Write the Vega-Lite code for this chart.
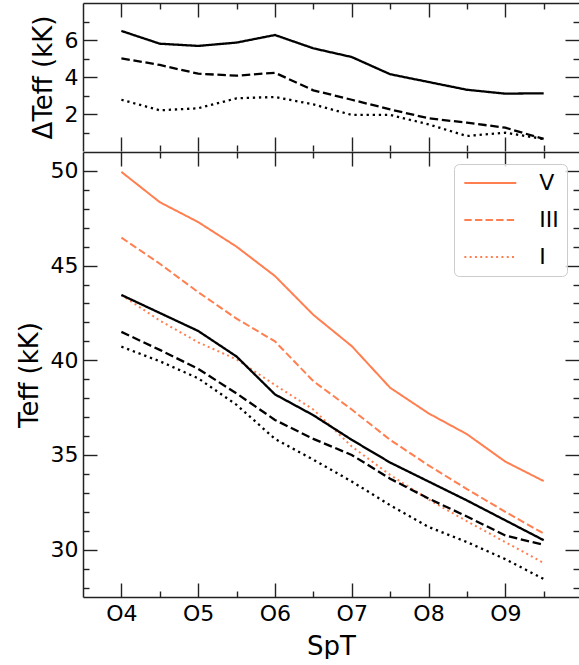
{
  "$schema": "https://vega.github.io/schema/vega-lite/v6.json",
  "padding": {"left": 16, "top": 2, "right": 0, "bottom": 0},
  "spacing": -3,
  "config": {
    "view": {"stroke": null},
    "font": "DejaVu Sans",
    "axis": {
      "grid": false,
      "tickColor": "#222222",
      "tickWidth": 1.4,
      "domainColor": "#222222",
      "domainWidth": 1.5,
      "labelFont": "DejaVu Sans",
      "labelFontSize": 22,
      "labelColor": "#000000",
      "titleFont": "DejaVu Sans",
      "titleFontSize": 26,
      "titleFontWeight": "normal",
      "titleColor": "#000000"
    }
  },
  "datasets": {
    "ours": [
      {"spt": 4, "cls": "V", "teff": 49.95}, {"spt": 4.5, "cls": "V", "teff": 48.35}, {"spt": 5, "cls": "V", "teff": 47.3}, {"spt": 5.5, "cls": "V", "teff": 46.0}, {"spt": 6, "cls": "V", "teff": 44.45}, {"spt": 6.5, "cls": "V", "teff": 42.4}, {"spt": 7, "cls": "V", "teff": 40.75}, {"spt": 7.5, "cls": "V", "teff": 38.55}, {"spt": 8, "cls": "V", "teff": 37.2}, {"spt": 8.5, "cls": "V", "teff": 36.1}, {"spt": 9, "cls": "V", "teff": 34.65}, {"spt": 9.5, "cls": "V", "teff": 33.62},
      {"spt": 4, "cls": "III", "teff": 46.48}, {"spt": 4.5, "cls": "III", "teff": 45.1}, {"spt": 5, "cls": "III", "teff": 43.6}, {"spt": 5.5, "cls": "III", "teff": 42.2}, {"spt": 6, "cls": "III", "teff": 41.0}, {"spt": 6.5, "cls": "III", "teff": 38.9}, {"spt": 7, "cls": "III", "teff": 37.4}, {"spt": 7.5, "cls": "III", "teff": 35.8}, {"spt": 8, "cls": "III", "teff": 34.45}, {"spt": 8.5, "cls": "III", "teff": 33.2}, {"spt": 9, "cls": "III", "teff": 32.0}, {"spt": 9.5, "cls": "III", "teff": 30.85},
      {"spt": 4, "cls": "I", "teff": 43.45}, {"spt": 4.5, "cls": "I", "teff": 42.1}, {"spt": 5, "cls": "I", "teff": 40.95}, {"spt": 5.5, "cls": "I", "teff": 40.05}, {"spt": 6, "cls": "I", "teff": 38.7}, {"spt": 6.5, "cls": "I", "teff": 37.4}, {"spt": 7, "cls": "I", "teff": 35.45}, {"spt": 7.5, "cls": "I", "teff": 33.95}, {"spt": 8, "cls": "I", "teff": 32.65}, {"spt": 8.5, "cls": "I", "teff": 31.5}, {"spt": 9, "cls": "I", "teff": 30.4}, {"spt": 9.5, "cls": "I", "teff": 29.3}
    ],
    "ref": [
      {"spt": 4, "cls": "V", "teff": 43.45}, {"spt": 4.5, "cls": "V", "teff": 42.5}, {"spt": 5, "cls": "V", "teff": 41.55}, {"spt": 5.5, "cls": "V", "teff": 40.2}, {"spt": 6, "cls": "V", "teff": 38.2}, {"spt": 6.5, "cls": "V", "teff": 37.1}, {"spt": 7, "cls": "V", "teff": 35.8}, {"spt": 7.5, "cls": "V", "teff": 34.6}, {"spt": 8, "cls": "V", "teff": 33.6}, {"spt": 8.5, "cls": "V", "teff": 32.6}, {"spt": 9, "cls": "V", "teff": 31.55}, {"spt": 9.5, "cls": "V", "teff": 30.5},
      {"spt": 4, "cls": "III", "teff": 41.5}, {"spt": 4.5, "cls": "III", "teff": 40.55}, {"spt": 5, "cls": "III", "teff": 39.55}, {"spt": 5.5, "cls": "III", "teff": 38.25}, {"spt": 6, "cls": "III", "teff": 36.85}, {"spt": 6.5, "cls": "III", "teff": 35.85}, {"spt": 7, "cls": "III", "teff": 35.0}, {"spt": 7.5, "cls": "III", "teff": 33.75}, {"spt": 8, "cls": "III", "teff": 32.7}, {"spt": 8.5, "cls": "III", "teff": 31.75}, {"spt": 9, "cls": "III", "teff": 30.75}, {"spt": 9.5, "cls": "III", "teff": 30.25},
      {"spt": 4, "cls": "I", "teff": 40.72}, {"spt": 4.5, "cls": "I", "teff": 39.95}, {"spt": 5, "cls": "I", "teff": 39.05}, {"spt": 5.5, "cls": "I", "teff": 37.65}, {"spt": 6, "cls": "I", "teff": 35.85}, {"spt": 6.5, "cls": "I", "teff": 34.75}, {"spt": 7, "cls": "I", "teff": 33.6}, {"spt": 7.5, "cls": "I", "teff": 32.35}, {"spt": 8, "cls": "I", "teff": 31.2}, {"spt": 8.5, "cls": "I", "teff": 30.4}, {"spt": 9, "cls": "I", "teff": 29.5}, {"spt": 9.5, "cls": "I", "teff": 28.45}
    ],
    "diff": [
      {"spt": 4, "cls": "V", "dteff": 6.49}, {"spt": 4.5, "cls": "V", "dteff": 5.8}, {"spt": 5, "cls": "V", "dteff": 5.68}, {"spt": 5.5, "cls": "V", "dteff": 5.86}, {"spt": 6, "cls": "V", "dteff": 6.27}, {"spt": 6.5, "cls": "V", "dteff": 5.55}, {"spt": 7, "cls": "V", "dteff": 5.08}, {"spt": 7.5, "cls": "V", "dteff": 4.15}, {"spt": 8, "cls": "V", "dteff": 3.73}, {"spt": 8.5, "cls": "V", "dteff": 3.31}, {"spt": 9, "cls": "V", "dteff": 3.1}, {"spt": 9.5, "cls": "V", "dteff": 3.12},
      {"spt": 4, "cls": "III", "dteff": 5.01}, {"spt": 4.5, "cls": "III", "dteff": 4.65}, {"spt": 5, "cls": "III", "dteff": 4.18}, {"spt": 5.5, "cls": "III", "dteff": 4.07}, {"spt": 6, "cls": "III", "dteff": 4.23}, {"spt": 6.5, "cls": "III", "dteff": 3.28}, {"spt": 7, "cls": "III", "dteff": 2.77}, {"spt": 7.5, "cls": "III", "dteff": 2.25}, {"spt": 8, "cls": "III", "dteff": 1.77}, {"spt": 8.5, "cls": "III", "dteff": 1.53}, {"spt": 9, "cls": "III", "dteff": 1.26}, {"spt": 9.5, "cls": "III", "dteff": 0.65},
      {"spt": 4, "cls": "I", "dteff": 2.77}, {"spt": 4.5, "cls": "I", "dteff": 2.2}, {"spt": 5, "cls": "I", "dteff": 2.31}, {"spt": 5.5, "cls": "I", "dteff": 2.85}, {"spt": 6, "cls": "I", "dteff": 2.92}, {"spt": 6.5, "cls": "I", "dteff": 2.52}, {"spt": 7, "cls": "I", "dteff": 1.95}, {"spt": 7.5, "cls": "I", "dteff": 1.95}, {"spt": 8, "cls": "I", "dteff": 1.44}, {"spt": 8.5, "cls": "I", "dteff": 0.81}, {"spt": 9, "cls": "I", "dteff": 0.99}, {"spt": 9.5, "cls": "I", "dteff": 0.65}
    ]
  },
  "vconcat": [
    {
      "width": 496,
      "height": 148,
      "data": {"name": "diff"},
      "layer": [
        {
          "mark": {"type": "line", "color": "#000000", "strokeWidth": 2.3},
          "encoding": {
            "x": {"field": "spt", "type": "quantitative", "scale": {"domain": [3.5, 9.96], "nice": false, "zero": false},
                  "axis": {"orient": "bottom", "values": [4, 5, 6, 7, 8, 9], "labels": false, "title": null, "domain": false, "tickSize": -14}},
            "y": {"field": "dteff", "type": "quantitative", "scale": {"domain": [0, 8], "nice": false, "zero": false},
                  "axis": {"orient": "left", "values": [2, 4, 6], "title": "ΔTeff (kK)", "tickSize": -14, "labelPadding": 19, "titlePadding": 8, "domain": true}},
            "strokeDash": {"field": "cls", "type": "nominal", "scale": {"domain": ["V", "III", "I"], "range": [[1, 0], [8.5, 3.7], [2.3, 3.8]]}, "legend": null}
          }
        },
        {
          "mark": {"type": "point", "opacity": 0},
          "encoding": {
            "x": {"field": "spt", "type": "quantitative", "axis": {"orient": "bottom", "values": [4.5, 5.5, 6.5, 7.5, 8.5, 9.5], "labels": false, "title": null, "domain": false, "tickSize": -6}},
            "y": {"field": "dteff", "type": "quantitative", "axis": {"orient": "left", "values": [1, 3, 5, 7], "labels": false, "title": null, "domain": false, "tickSize": -6}}
          }
        },
        {
          "mark": {"type": "point", "opacity": 0},
          "encoding": {
            "x": {"field": "spt", "type": "quantitative", "axis": {"orient": "top", "values": [4, 5, 6, 7, 8, 9], "labels": false, "title": null, "domain": true, "tickSize": -14}},
            "y": {"field": "dteff", "type": "quantitative", "axis": {"orient": "right", "values": [2, 4, 6], "labels": false, "title": null, "domain": false, "tickSize": -14}}
          }
        },
        {
          "mark": {"type": "point", "opacity": 0},
          "encoding": {
            "x": {"field": "spt", "type": "quantitative", "axis": {"orient": "top", "values": [4.5, 5.5, 6.5, 7.5, 8.5, 9.5], "labels": false, "title": null, "domain": false, "tickSize": -6}},
            "y": {"field": "dteff", "type": "quantitative", "axis": {"orient": "right", "values": [1, 3, 5, 7], "labels": false, "title": null, "domain": false, "tickSize": -6}}
          }
        }
      ],
      "resolve": {"axis": {"x": "independent", "y": "independent"}}
    },
    {
      "width": 496,
      "height": 445,
      "layer": [
        {
          "data": {"name": "ours"},
          "mark": {"type": "line", "color": "#FF7F50", "strokeWidth": 2},
          "encoding": {
            "x": {"field": "spt", "type": "quantitative", "scale": {"domain": [3.5, 9.96], "nice": false, "zero": false},
                  "axis": {"orient": "bottom", "values": [4, 5, 6, 7, 8, 9], "labelExpr": "'O' + datum.value", "title": "SpT", "tickSize": -14, "labelPadding": 20, "titlePadding": 9, "domain": true}},
            "y": {"field": "teff", "type": "quantitative", "scale": {"domain": [27.5, 51], "nice": false, "zero": false},
                  "axis": {"orient": "left", "values": [30, 35, 40, 45, 50], "title": "Teff (kK)", "tickSize": -14, "labelPadding": 19, "titlePadding": 8, "domain": true}},
            "strokeDash": {"field": "cls", "type": "nominal", "scale": {"domain": ["V", "III", "I"], "range": [[1, 0], [7.4, 3.2], [2, 3.3]]},
                  "legend": {"orient": "none", "legendX": 371, "legendY": 12, "title": null, "symbolType": "M-3,0H3", "symbolSize": 300, "symbolStrokeWidth": 2, "symbolStrokeColor": "#FF7F50", "symbolFillColor": "transparent", "symbolOffset": 17.3, "labelOffset": 38, "labelFont": "DejaVu Sans", "labelFontSize": 22, "labelColor": "#000000", "rowPadding": 15, "padding": 8, "strokeColor": "#cccccc", "fillColor": "rgba(255,255,255,0.8)", "cornerRadius": 5}}
          }
        },
        {
          "data": {"name": "ref"},
          "mark": {"type": "line", "color": "#000000", "strokeWidth": 2.3},
          "encoding": {
            "x": {"field": "spt", "type": "quantitative", "axis": null},
            "y": {"field": "teff", "type": "quantitative", "axis": null},
            "strokeDash": {"field": "cls", "type": "nominal", "scale": {"domain": ["V", "III", "I"], "range": [[1, 0], [8.5, 3.7], [2.3, 3.8]]}, "legend": null}
          }
        },
        {
          "data": {"name": "ours"},
          "mark": {"type": "point", "opacity": 0},
          "encoding": {
            "x": {"field": "spt", "type": "quantitative", "axis": {"orient": "bottom", "values": [4.5, 5.5, 6.5, 7.5, 8.5, 9.5], "labels": false, "title": null, "domain": false, "tickSize": -6}},
            "y": {"field": "teff", "type": "quantitative", "axis": {"orient": "left", "values": [28, 29, 31, 32, 33, 34, 36, 37, 38, 39, 41, 42, 43, 44, 46, 47, 48, 49], "labels": false, "title": null, "domain": false, "tickSize": -6}}
          }
        },
        {
          "data": {"name": "ours"},
          "mark": {"type": "point", "opacity": 0},
          "encoding": {
            "x": {"field": "spt", "type": "quantitative", "axis": {"orient": "top", "values": [4, 5, 6, 7, 8, 9], "labels": false, "title": null, "domain": true, "tickSize": -14}},
            "y": {"field": "teff", "type": "quantitative", "axis": {"orient": "right", "values": [30, 35, 40, 45, 50], "labels": false, "title": null, "domain": false, "tickSize": -14}}
          }
        },
        {
          "data": {"name": "ours"},
          "mark": {"type": "point", "opacity": 0},
          "encoding": {
            "x": {"field": "spt", "type": "quantitative", "axis": {"orient": "top", "values": [4.5, 5.5, 6.5, 7.5, 8.5, 9.5], "labels": false, "title": null, "domain": false, "tickSize": -6}},
            "y": {"field": "teff", "type": "quantitative", "axis": {"orient": "right", "values": [28, 29, 31, 32, 33, 34, 36, 37, 38, 39, 41, 42, 43, 44, 46, 47, 48, 49], "labels": false, "title": null, "domain": false, "tickSize": -6}}
          }
        }
      ],
      "resolve": {"axis": {"x": "independent", "y": "independent"}, "scale": {"strokeDash": "independent"}}
    }
  ]
}
